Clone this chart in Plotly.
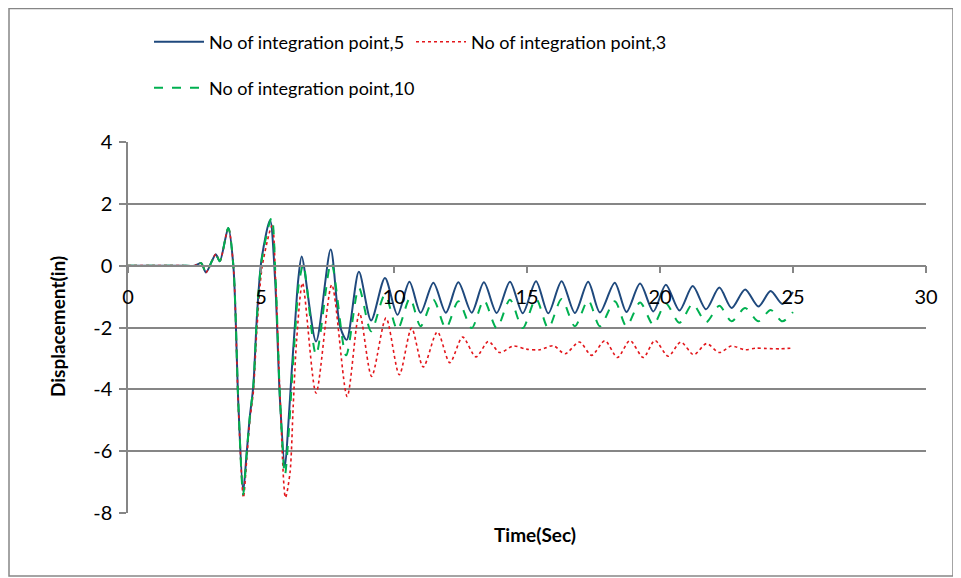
import plotly.graph_objects as go

# ---- data ----
t_np5 = [0, 1, 2, 2.5, 2.75, 2.93, 3.15, 3.3, 3.45, 3.77, 3.96, 4.15, 4.33, 4.46, 4.58, 4.71,
         4.85, 5.02, 5.34, 5.53, 5.71, 5.9, 6.03, 6.15, 6.28, 6.4, 6.53, 7.07, 7.62, 7.97, 8.22,
         8.68, 9.14, 9.66, 10.13, 10.58, 11.0, 11.48, 11.95, 12.42, 12.92, 13.38, 13.86, 14.36,
         14.84, 15.34, 15.8, 16.3, 16.8, 17.3, 17.74, 18.3, 18.74, 19.25, 19.75, 20.22, 20.73,
         21.23, 21.73, 22.23, 22.69, 23.2, 23.7, 24.16, 24.6, 25.0]
d_np5 = [0, 0, 0, 0, 0.08, -0.22, 0.14, 0.37, 0.14, 1.22, 0.0, -4.5, -7.3, -6.07, -4.88, -3.9,
         -1.6, 0.2, 1.47, -0.45, -4.3, -6.5, -5.1, -3.47, -1.86, -0.45, 0.3, -2.45, 0.52, -1.96,
         -2.4, -0.2, -1.77, -0.4, -1.59, -0.52, -1.52, -0.55, -1.52, -0.54, -1.52, -0.54, -1.53,
         -0.52, -1.54, -0.5, -1.54, -0.5, -1.53, -0.52, -1.51, -0.55, -1.5, -0.58, -1.48, -0.62,
         -1.45, -0.66, -1.41, -0.71, -1.37, -0.77, -1.32, -0.82, -1.24, -0.85]

t_np3 = [0, 1, 2, 2.5, 2.75, 2.93, 3.15, 3.3, 3.45, 3.77, 3.96, 4.15, 4.34, 4.46, 4.58, 4.71,
         4.85, 5.05, 5.42, 5.55, 5.72, 5.92, 6.09, 6.21, 6.34, 6.56, 7.07, 7.66, 8.24, 8.7, 9.16,
         9.7, 10.2, 10.66, 11.1, 11.63, 12.1, 12.58, 13.08, 13.55, 13.98, 14.48, 14.98, 15.49,
         15.99, 16.43, 16.97, 17.43, 17.93, 18.4, 18.87, 19.37, 19.81, 20.31, 20.78, 21.27,
         21.75, 22.23, 22.68, 23.2, 23.6, 24.0, 24.5, 24.9]
d_np3 = [0, 0, 0, 0, 0.08, -0.22, 0.14, 0.37, 0.14, 1.22, 0.0, -4.6, -7.5, -6.3, -5.0, -4.1,
         -2.0, 0.0, 1.3, -0.5, -4.3, -7.5, -6.7, -4.55, -2.4, -0.56, -4.12, -0.62, -4.23, -1.53,
         -3.58, -1.69, -3.53, -2.02, -3.28, -2.14, -3.14, -2.31, -2.95, -2.45, -2.81, -2.6, -2.7,
         -2.72, -2.59, -2.85, -2.47, -2.9, -2.43, -2.97, -2.42, -2.97, -2.42, -2.93, -2.47, -2.88,
         -2.52, -2.81, -2.6, -2.72, -2.67, -2.68, -2.69, -2.67]

t_np10 = [0, 1, 2, 2.5, 2.75, 2.93, 3.15, 3.3, 3.45, 3.77, 3.96, 4.15, 4.33, 4.46, 4.58, 4.71,
          4.85, 5.03, 5.4, 5.55, 5.72, 5.9, 6.05, 6.17, 6.3, 6.42, 6.59, 7.07, 7.64, 8.2, 8.68,
          9.14, 9.66, 10.13, 10.6, 11.0, 11.48, 11.95, 12.42, 12.92, 13.38, 13.86, 14.36, 14.84,
          15.34, 15.8, 16.3, 16.8, 17.3, 17.74, 18.3, 18.74, 19.25, 19.75, 20.22, 20.73, 21.23,
          21.73, 22.23, 22.69, 23.2, 23.7, 24.16, 24.6, 25.0]
d_np10 = [0, 0, 0, 0, 0.08, -0.22, 0.14, 0.37, 0.14, 1.22, 0.0, -4.5, -7.4, -6.1, -4.9, -3.9,
          -1.65, 0.2, 1.55, -0.45, -4.4, -6.77, -5.3, -3.6, -1.95, -0.6, 0.03, -2.88, 0.09, -2.9,
          -0.72, -2.12, -0.94, -2.07, -1.05, -1.96, -1.1, -2.02, -1.15, -2.02, -1.12, -2.02, -1.1,
          -2.02, -1.07, -2.02, -1.08, -1.96, -1.12, -1.96, -1.15, -1.96, -1.19, -1.91, -1.22, -1.85,
          -1.24, -1.83, -1.3, -1.8, -1.37, -1.8, -1.43, -1.8, -1.5]

names = ["No of integration point,5", "No of integration point,3", "No of integration point,10"]
x_ticks = [0, 5, 10, 15, 20, 25, 30]
x_labels = ["0", "5", "10", "15", "20", "25", "30"]
y_ticks = [-8, -6, -4, -2, 0, 2, 4]
y_labels = ["-8", "-6", "-4", "-2", "0", "2", "4"]

GRID = "#868686"
FONT = "Lato, 'Liberation Sans', sans-serif"

fig = go.Figure()
fig.add_trace(go.Scatter(x=t_np5, y=d_np5, mode="lines", name=names[0],
                         line=dict(color="#1F497D", width=2, shape="spline", smoothing=0.8),
                         legend="legend"))
fig.add_trace(go.Scatter(x=t_np3, y=d_np3, mode="lines", name=names[1],
                         line=dict(color="#E3161B", width=1.6, dash="dot", shape="spline", smoothing=0.8),
                         legend="legend"))
fig.add_trace(go.Scatter(x=t_np10, y=d_np10, mode="lines", name=names[2],
                         line=dict(color="#00B050", width=2, dash="dash", shape="spline", smoothing=0.8),
                         legend="legend2"))

# the page body adds an 8px offset; figure is sized to fit the window
OFF = 8
W, H = 953, 570
L, R, T, B = 120, 35, 134, 65
ph = H - T - B
pw = W - L - R

def px_x(x):  # screen pixel -> paper fraction
    return (x - OFF - L) / pw

def px_y(y):
    return (H - B - (y - OFF)) / ph

fig.update_layout(
    width=W, height=H,
    margin=dict(l=L, r=R, t=T, b=B),
    paper_bgcolor="white", plot_bgcolor="white",
    font=dict(family=FONT, size=18, color="black"),
    xaxis=dict(range=[0, 30], tickvals=x_ticks, ticktext=x_labels, showgrid=False, zeroline=False,
               showline=True, linecolor=GRID, linewidth=1.5, ticks="outside", ticklen=7,
               tickcolor=GRID, tickwidth=1.5, anchor="free", position=8 / 12,
               ticklabelstandoff=7, tickfont=dict(size=20)),
    yaxis=dict(range=[-8, 4], tickvals=y_ticks, ticktext=y_labels, showgrid=True, gridcolor=GRID,
               gridwidth=1.5, zeroline=False, showline=True, linecolor=GRID, linewidth=1.5,
               ticks="outside", ticklen=7, tickcolor=GRID, tickwidth=1.5, ticklabelstandoff=3,
               tickfont=dict(size=20)),
    legend=dict(orientation="h", x=px_x(149), y=px_y(42), xanchor="left", yanchor="middle",
                itemwidth=50, entrywidth=197, font=dict(size=18), bgcolor="rgba(0,0,0,0)"),
    legend2=dict(orientation="h", x=px_x(149), y=px_y(88), xanchor="left", yanchor="middle",
                 itemwidth=50, font=dict(size=18), bgcolor="rgba(0,0,0,0)"),
    showlegend=True,
    annotations=[
        dict(text="<b>Time(Sec)</b>", xref="paper", yref="paper", x=px_x(535), y=px_y(534),
             xanchor="center", yanchor="middle", showarrow=False, font=dict(size=19)),
        dict(text="<b>Displacement(in)</b>", xref="paper", yref="paper", x=px_x(57), y=px_y(327),
             xanchor="center", yanchor="middle", textangle=-90, showarrow=False,
             font=dict(size=19)),
    ],
    shapes=[dict(type="rect", xref="paper", yref="paper", x0=px_x(9), x1=px_x(953),
                 y0=px_y(576), y1=px_y(8.5), line=dict(color=GRID, width=1.5),
                 fillcolor="rgba(0,0,0,0)", layer="below")],
)

fig.write_html("out.html")
